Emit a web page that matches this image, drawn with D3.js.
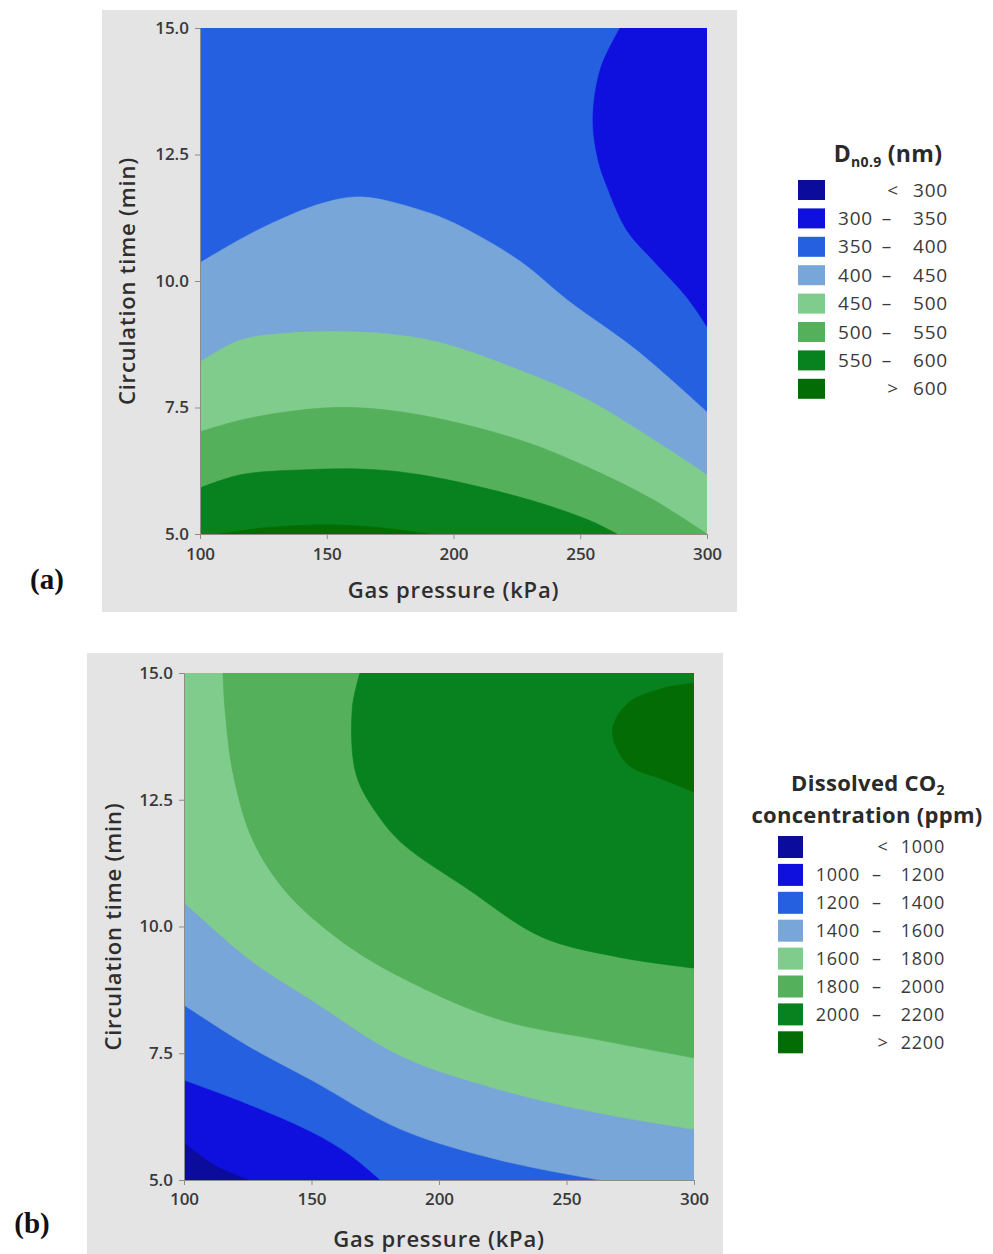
<!DOCTYPE html>
<html>
<head>
<meta charset="utf-8" />
<title>Contour plots</title>
<style>
  html, body { margin: 0; background: #fff; }
  svg text { font-family: "Open Sans", sans-serif; fill: #333; }
  .axis .tick line, .axis .domain { stroke: #8c8c8c; }
  .axis .tick text { font-family: "Open Sans", sans-serif; font-size: 17px; font-weight: 600; fill: #3a3a3a; }
  .axis-title { font-size: 22px; font-weight: 600; letter-spacing: 0.8px; fill: #2e2e2e; }
  .panel-label { font-family: "Liberation Serif", serif; font-weight: bold; font-size: 29px; fill: #111; }
  .legend text { letter-spacing: 0.8px; fill: #3a3a3a; }
  .legend .ltitle { font-size: 22px; font-weight: bold; fill: #2a2a2a; letter-spacing: 0.3px; }
</style>
</head>
<body>
<script src="https://cdn.jsdelivr.net/npm/d3@7"></script>
<script>
// shared axes
var pressureTicks = [100, 150, 200, 250, 300];
var timeTicks = [5.0, 7.5, 10.0, 12.5, 15.0];
var bandColors = ["#0c0c9c", "#1010de", "#2460e0", "#79a6d8", "#7fcc8d", "#54b05b", "#07821f", "#036c05"];

// (a) D_n0.9 (nm): contour lines, [gas pressure, time]
var sizeLevels = [300, 350, 400, 450, 500, 550, 600];
var size350 = [[265.7, 15], [258, 14.2], [255, 13.2], [257, 12.4], [260.6, 11.86], [268.4, 11.0], [278.7, 10.41], [292, 9.68], [300, 9.1]];
var size400 = [[100, 10.36], [122.5, 11.0], [148.5, 11.54], [164, 11.66], [187, 11.4], [200, 11.15], [226, 10.4], [245, 9.62], [272, 8.64], [300, 7.41]];
var size450 = [[100, 8.4], [115.8, 8.83], [135, 8.97], [155, 9.0], [175, 8.95], [195, 8.78], [226, 8.24], [253, 7.65], [279, 6.86], [300, 6.17]];
var size500 = [[100, 7.02], [116, 7.25], [140, 7.45], [160, 7.5], [187, 7.35], [226, 6.86], [253, 6.32], [279, 5.67], [300, 5.0]];
var size550 = [[100, 5.91], [116, 6.17], [142, 6.27], [165, 6.28], [187, 6.17], [226, 5.73], [253, 5.28], [264.5, 5.0]];
var size600 = [[108, 5.0], [125, 5.12], [150, 5.18], [170, 5.13], [190, 5.0]];

// (b) dissolved CO2 (ppm)
var co2Levels = [1000, 1200, 1400, 1600, 1800, 2000, 2200];
var co2_1000 = [[100, 5.75], [112, 5.3], [126, 5.0]];
var co2_1200 = [[100, 6.97], [125, 6.5], [150, 5.95], [165, 5.5], [177, 5.0]];
var co2_1400 = [[100, 8.45], [125, 7.65], [150, 6.97], [185, 6.0], [224, 5.39], [263, 5.0]];
var co2_1600 = [[100, 10.48], [126, 9.34], [150, 8.55], [185, 7.45], [224, 6.78], [263, 6.32], [300, 6.0]];
var co2_1800 = [[115.3, 15], [116, 14.33], [119.2, 13.03], [127, 11.7], [140.4, 10.66], [161.2, 9.73], [185, 9.0], [224, 8.16], [263, 7.76], [300, 7.41]];
var co2_2000 = [[169, 15], [166, 14.3], [167.5, 13.0], [176, 12.2], [186, 11.62], [211, 10.75], [240, 9.8], [270, 9.4], [300, 9.18]];
var co2_2200 = [[300, 14.8], [288, 14.7], [274, 14.4], [268, 13.85], [274, 13.2], [289, 12.88], [300, 12.65]];

var svg = d3.select("body").append("svg")
    .attr("width", 993)
    .attr("height", 1254);

function contourPanel(p) {
  var g = svg.append("g");
  // gray panel
  g.append("rect")
      .attr("x", p.panel[0]).attr("y", p.panel[1])
      .attr("width", p.panel[2]).attr("height", p.panel[3])
      .attr("fill", "#e4e4e4");

  var x = d3.scaleLinear().domain([100, 300]).range([p.left, p.left + p.width]);
  var y = d3.scaleLinear().domain([5, 15]).range([p.top + p.height, p.top]);

  svg.append("clipPath").attr("id", p.id + "-clip")
    .append("rect")
      .attr("x", p.left).attr("y", p.top)
      .attr("width", p.width).attr("height", p.height);

  var plot = g.append("g").attr("clip-path", "url(#" + p.id + "-clip)");
  plot.append("rect")
      .attr("x", p.left).attr("y", p.top)
      .attr("width", p.width).attr("height", p.height)
      .attr("fill", bandColors[p.base]);

  var line = d3.line()
      .x(function(d) { return x(d[0]); })
      .y(function(d) { return y(d[1]); })
      .curve(d3.curveCatmullRom.alpha(0.5));

  p.regions.forEach(function(r) {
    var d = line(r.line) +
      r.corners.map(function(c) { return "L" + x(c[0]) + "," + y(c[1]); }).join("") + "Z";
    plot.append("path")
        .attr("d", d)
        .attr("fill", bandColors[r.band])
        .attr("stroke", bandColors[r.band])
        .attr("stroke-width", 0.6);
  });

  g.append("g")
      .attr("class", "axis")
      .attr("transform", "translate(0," + (p.top + p.height) + ")")
      .call(d3.axisBottom(x).tickValues(pressureTicks).tickSize(5).tickSizeOuter(0)
        .tickPadding(p.xPad).tickFormat(d3.format("d")));
  g.append("g")
      .attr("class", "axis")
      .attr("transform", "translate(" + p.left + ",0)")
      .call(d3.axisLeft(y).tickValues(timeTicks).tickSize(5).tickSizeOuter(0)
        .tickPadding(p.yPad).tickFormat(d3.format(".1f")));

  g.append("text")
      .attr("class", "axis-title")
      .attr("x", p.left + p.width / 2)
      .attr("y", p.xTitleY)
      .attr("text-anchor", "middle")
      .text("Gas pressure (kPa)");
  g.append("text")
      .attr("class", "axis-title")
      .attr("transform", "translate(" + p.yTitleX + "," + (p.top + p.height / 2) + ") rotate(-90)")
      .attr("text-anchor", "middle")
      .attr("dy", "0.35em")
      .text("Circulation time (min)");

  g.append("text")
      .attr("class", "panel-label")
      .attr("x", p.label[0]).attr("y", p.label[1])
      .attr("text-anchor", "middle")
      .text(p.labelText);
}

function legend(p) {
  var g = svg.append("g").attr("class", "legend").style("font-size", p.fontSize + "px");
  p.title(g);
  var n = p.levels.length;
  d3.range(n + 1).forEach(function(i) {
    var cy = p.rowY + i * p.rowStep;
    g.append("rect")
        .attr("x", p.swX).attr("y", cy - p.swH / 2)
        .attr("width", p.swW).attr("height", p.swH)
        .attr("fill", bandColors[i]);
    if (i === 0 || i === n) {
      g.append("text").attr("x", p.signX).attr("y", cy).attr("dy", "0.35em")
          .attr("text-anchor", "middle").text(i === 0 ? "<" : ">");
      g.append("text").attr("x", p.rightX).attr("y", cy).attr("dy", "0.35em")
          .attr("text-anchor", "end").text(i === 0 ? p.levels[0] : p.levels[n - 1]);
    } else {
      g.append("text").attr("x", p.leftX).attr("y", cy).attr("dy", "0.35em")
          .attr("text-anchor", "end").text(p.levels[i - 1]);
      g.append("text").attr("x", p.dashX).attr("y", cy).attr("dy", "0.35em")
          .attr("text-anchor", "middle").text("\u2013");
      g.append("text").attr("x", p.rightX).attr("y", cy).attr("dy", "0.35em")
          .attr("text-anchor", "end").text(p.levels[i]);
    }
  });
}

contourPanel({
  id: "pa", panel: [102, 10, 635, 602],
  left: 200, top: 28, width: 507, height: 506,
  base: 2,
  regions: [
    { line: size350, corners: [[300, 15]], band: 1 },
    { line: size400, corners: [[300, 5], [100, 5]], band: 3 },
    { line: size450, corners: [[300, 5], [100, 5]], band: 4 },
    { line: size500, corners: [[100, 5]], band: 5 },
    { line: size550, corners: [[100, 5]], band: 6 },
    { line: size600, corners: [], band: 7 }
  ],
  xPad: 9, yPad: 6, xTitleY: 598, yTitleX: 127,
  label: [47, 589], labelText: "(a)"
});

contourPanel({
  id: "pb", panel: [87, 653, 636, 601],
  left: 184, top: 673, width: 510, height: 507,
  base: 0,
  regions: [
    { line: co2_1000, corners: [[300, 5], [300, 15], [100, 15]], band: 1 },
    { line: co2_1200, corners: [[300, 5], [300, 15], [100, 15]], band: 2 },
    { line: co2_1400, corners: [[300, 5], [300, 15], [100, 15]], band: 3 },
    { line: co2_1600, corners: [[300, 15], [100, 15]], band: 4 },
    { line: co2_1800, corners: [[300, 15]], band: 5 },
    { line: co2_2000, corners: [[300, 15]], band: 6 },
    { line: co2_2200, corners: [], band: 7 }
  ],
  xPad: 8, yPad: 6, xTitleY: 1247, yTitleX: 113,
  label: [32, 1233], labelText: "(b)"
});

legend({
  levels: sizeLevels, fontSize: 19,
  swX: 798, swW: 27, swH: 20, rowY: 190, rowStep: 28.4,
  leftX: 873, dashX: 887, rightX: 948, signX: 893,
  title: function(g) {
    var t = g.append("text").attr("class", "ltitle")
        .attr("x", 888).attr("y", 162).attr("text-anchor", "middle")
        .style("font-size", "23px");
    t.append("tspan").text("D");
    t.append("tspan").attr("dy", 5).style("font-size", "14px").text("n0.9");
    t.append("tspan").attr("dy", -5).text(" (nm)");
  }
});

legend({
  levels: co2Levels, fontSize: 18,
  swX: 778, swW: 25, swH: 22, rowY: 847, rowStep: 27.9,
  leftX: 860, dashX: 877, rightX: 945, signX: 883,
  title: function(g) {
    var t = g.append("text").attr("class", "ltitle")
        .attr("x", 868).attr("y", 791).attr("text-anchor", "middle");
    t.append("tspan").text("Dissolved CO");
    t.append("tspan").attr("dy", 4).style("font-size", "14px").text("2");
    g.append("text").attr("class", "ltitle")
        .attr("x", 867).attr("y", 823).attr("text-anchor", "middle")
        .text("concentration (ppm)");
  }
});
</script>
</body>
</html>
